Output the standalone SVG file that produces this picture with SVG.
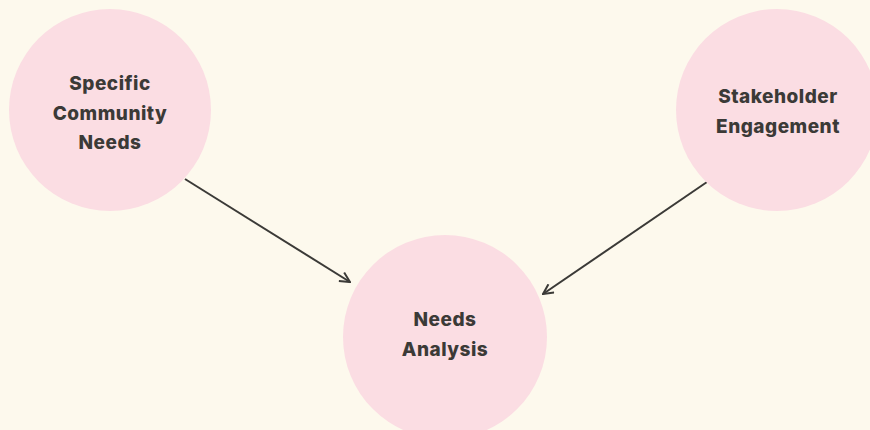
<svg xmlns="http://www.w3.org/2000/svg" width="870" height="430" viewBox="0 0 870 430">
<style>
.node{fill:#fbdde3}
.lbl{font-family:Inter,"Liberation Sans",sans-serif;font-weight:800;font-size:19px;letter-spacing:0.5px;fill:#3b3a37;text-anchor:middle}
.edge{stroke:#3b3a37;stroke-width:2;fill:none}
</style>
<defs>
<marker id="arr" viewBox="0 0 12 12" refX="11" refY="6" markerWidth="12" markerHeight="12" markerUnits="userSpaceOnUse" orient="auto">
<path d="M1,1 L11,6 L1,11" fill="none" stroke="#3b3a37" stroke-width="2"/>
</marker>
</defs>
<rect width="870" height="430" fill="#fdf9ed"/>
<g id="connectors">
<line class="edge" x1="185" y1="179" x2="350" y2="282" marker-end="url(#arr)"/>
<line class="edge" x1="707" y1="182" x2="543" y2="294" marker-end="url(#arr)"/>
</g>
<g id="specific-community-needs">
<circle class="node" cx="110" cy="110" r="101"/>
<text class="lbl" x="110" y="90">Specific</text>
<text class="lbl" x="110" y="120">Community</text>
<text class="lbl" x="110" y="149">Needs</text>
</g>
<g id="stakeholder-engagement">
<circle class="node" cx="777" cy="110" r="101"/>
<text class="lbl" x="778" y="103">Stakeholder</text>
<text class="lbl" x="778" y="133">Engagement</text>
</g>
<g id="needs-analysis">
<circle class="node" cx="445" cy="337" r="102"/>
<text class="lbl" x="445" y="326">Needs</text>
<text class="lbl" x="445" y="356">Analysis</text>
</g>
</svg>
